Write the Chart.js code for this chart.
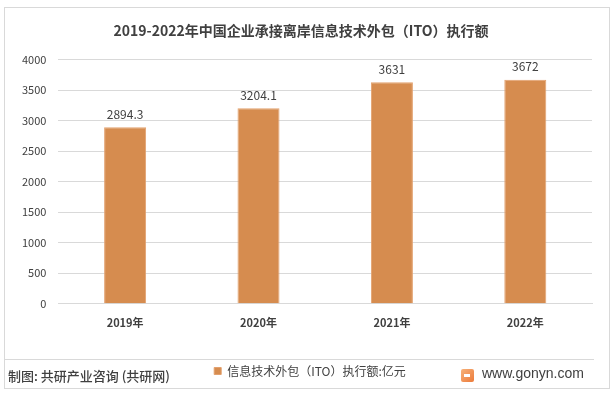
<!DOCTYPE html>
<html>
<head>
<meta charset="utf-8">
<script src="https://cdn.jsdelivr.net/npm/chart.js@4/dist/chart.umd.min.js"></script>
<style>
  html, body { margin: 0; padding: 0; background: #fff; }
  #wrap { position: relative; width: 613px; height: 396px; overflow: hidden; font-family: "Noto Sans CJK SC", "Noto Sans", sans-serif; }
  #frame { position: absolute; left: 4px; top: 7px; width: 604px; height: 380px; border: 1px solid #d9d9d9; box-sizing: content-box; }
  #sep { position: absolute; left: 5px; top: 359px; width: 589px; height: 1px; background: #d9d9d9; }
  #chartBox { position: absolute; left: 0; top: 0; width: 613px; height: 396px; }
  #source { position: absolute; left: 8px; top: 366px; font-size: 13px; color: #404040; font-weight: 500; white-space: nowrap; }
  #site { position: absolute; left: 482px; top: 365px; font-size: 14px; color: #404040; white-space: nowrap; font-family: "Liberation Sans", Arial, sans-serif; }
  #logo { position: absolute; left: 461px; top: 369px; width: 13px; height: 13px; border-radius: 2px; background: linear-gradient(135deg, #f7b27a, #ec7a3a); }
  #logo:after { content: ""; position: absolute; left: 3px; top: 5px; width: 6px; height: 3px; background: #fff; }
</style>
</head>
<body>
<div id="wrap">
  <div id="chartBox"><canvas id="myChart" width="613" height="396"></canvas></div>
  <div id="frame"></div>
  <div id="sep"></div>
  <div id="source">制图: 共研产业咨询 (共研网)</div>
  <div id="logo"></div>
  <div id="site">www.gonyn.com</div>
</div>
<script>
var years = ['2019年', '2020年', '2021年', '2022年'];
var itoValues = [2894.3, 3204.1, 3631, 3672];
var seriesName = '信息技术外包（ITO）执行额:亿元';
var chartTitle = '2019-2022年中国企业承接离岸信息技术外包（ITO）执行额';

var barColor = '#D68C4F';
var textColor = '#404040';
var gridColor = '#d9d9d9';
var cjk = '"Noto Sans CJK SC", "Noto Sans", sans-serif';

// value labels above each bar
var valueLabels = {
    id: 'valueLabels',
    afterDatasetsDraw: function (chart) {
        var ctx = chart.ctx;
        var meta = chart.getDatasetMeta(0);
        ctx.save();
        ctx.font = '12px ' + cjk;
        ctx.fillStyle = textColor;
        ctx.textAlign = 'center';
        ctx.textBaseline = 'bottom';
        for (var i = 0; i < meta.data.length; i++) {
            var bar = meta.data[i];
            ctx.fillText(String(itoValues[i]), bar.x, bar.y - 7);
        }
        ctx.restore();
    }
};

// legend sits a little right of centre in the original
var legendShift = {
    id: 'legendShift',
    afterLayout: function (chart) {
        if (chart.legend) {
            chart.legend.left += 9;
            chart.legend.right += 9;
        }
    }
};

var ctx = document.getElementById('myChart').getContext('2d');
var myChart = new Chart(ctx, {
    type: 'bar',
    data: {
        labels: years,
        datasets: [{
            label: seriesName,
            data: itoValues,
            backgroundColor: barColor,
            borderColor: '#E3A16E',
            borderWidth: 1,
            categoryPercentage: 1,
            barPercentage: 0.315
        }]
    },
    options: {
        responsive: false,
        animation: false,
        layout: { padding: { left: 10, right: 21, top: 22, bottom: 9 } },
        plugins: {
            title: {
                display: true,
                text: chartTitle,
                color: textColor,
                font: { family: cjk, size: 14, weight: 'bold' },
                padding: { top: 0, bottom: 21 }
            },
            legend: {
                position: 'bottom',
                labels: {
                    color: textColor,
                    font: { family: cjk, size: 12 },
                    boxWidth: 7,
                    boxHeight: 7,
                    padding: 4
                }
            },
            tooltip: { enabled: false }
        },
        scales: {
            x: {
                grid: { display: false },
                border: { color: gridColor },
                ticks: {
                    color: textColor,
                    font: { family: cjk, size: 11, weight: 'bold' },
                    padding: 4
                },
                afterFit: function (axis) { axis.height += 28; }
            },
            y: {
                min: 0,
                max: 4000,
                ticks: {
                    stepSize: 500,
                    color: textColor,
                    font: { family: cjk, size: 11 },
                    padding: 12,
                    callback: function (v) { return String(v); }
                },
                grid: { color: gridColor, drawTicks: false },
                border: { display: false }
            }
        }
    },
    plugins: [valueLabels, legendShift]
});
</script>
</body>
</html>
